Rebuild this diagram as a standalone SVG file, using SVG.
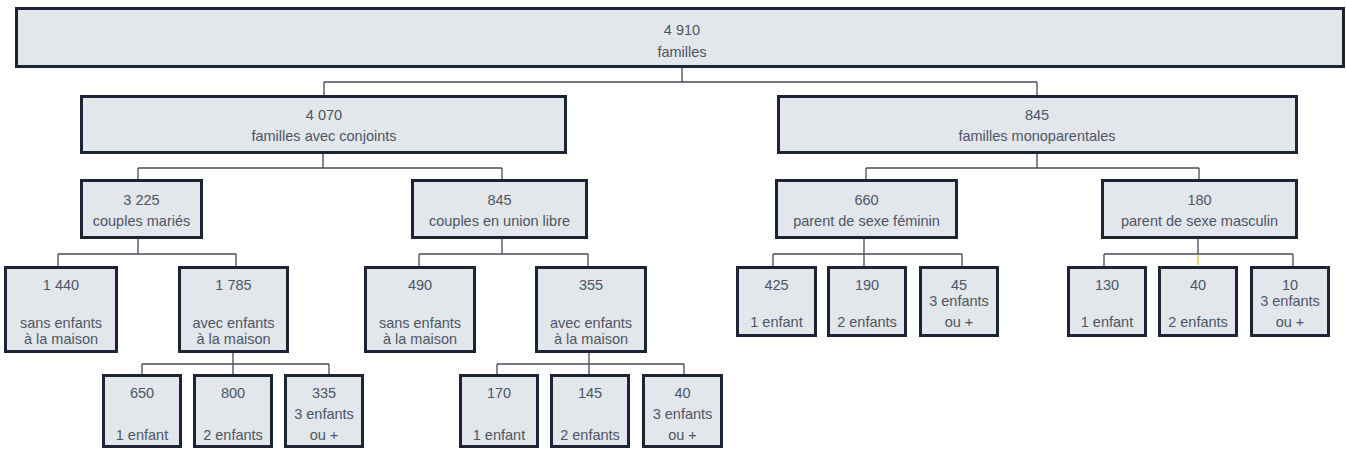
<svg xmlns="http://www.w3.org/2000/svg" width="1346" height="450" viewBox="0 0 1346 450">
<style>
.box{fill:#e3e6eb;stroke:#1d2535;stroke-width:3}
.inner{fill:none;stroke:#9ba2ad;stroke-width:1}
text{font-family:"Liberation Sans",Arial,sans-serif;font-size:14.5px;fill:#4d5666;text-anchor:middle}
.con{fill:none;stroke:#454c58;stroke-width:1.3}
.hl{fill:none;stroke:#d8d44c;stroke-width:1.6}
</style>
<rect width="1346" height="450" fill="#ffffff"/>
<g id="connectors">
<path class="con" d="M682,68V82M324,82H1037M324,82V95M1037,82V95"/>
<path class="con" d="M323,154V168M138,168H502M138,168V179M502,168V179"/>
<path class="con" d="M1037,154V168M866,168H1199M866,168V179M1199,168V179"/>
<path class="con" d="M138,239V254M58,254H236M58,254V266M236,254V266"/>
<path class="con" d="M502,239V254M419,254H588M419,254V266M588,254V266"/>
<path class="con" d="M233,353V364M142,364H329M142,364V374M233,364V374M329,364V374"/>
<path class="con" d="M589,353V364M497,364H684M497,364V374M589,364V374M684,364V374"/>
<path class="con" d="M864,239V254M773,254H962M773,254V266M864,254V266M962,254V266"/>
<path class="con" d="M1198,239V254M1104,254H1293M1104,254V266M1293,254V266"/>
<path class="hl" d="M1198,254.7V265"/>
</g>
<g id="n4910"><rect class="box" x="16.5" y="8.5" width="1327" height="58"/><text x="682" y="35">4 910</text><text x="682" y="57">familles</text></g>
<g id="n4070"><rect class="box" x="81.5" y="96.5" width="484" height="56"/><text x="324" y="120">4 070</text><text x="324" y="141">familles avec conjoints</text></g>
<g id="n845m"><rect class="box" x="778.5" y="96.5" width="518" height="56"/><text x="1037" y="120">845</text><text x="1037" y="141">familles monoparentales</text></g>
<g id="n3225"><rect class="box" x="81.5" y="180.5" width="120" height="57"/><text x="141.5" y="205">3 225</text><text x="141.5" y="226">couples mariés</text></g>
<g id="n845c"><rect class="box" x="412.5" y="180.5" width="174" height="57"/><text x="499.5" y="205">845</text><text x="499.5" y="226">couples en union libre</text></g>
<g id="n660"><rect class="box" x="776.5" y="180.5" width="180" height="57"/><text x="866.5" y="205">660</text><text x="866.5" y="226">parent de sexe féminin</text></g>
<g id="n180"><rect class="box" x="1102.5" y="180.5" width="194" height="57"/><text x="1199.5" y="205">180</text><text x="1199.5" y="226">parent de sexe masculin</text></g>
<g id="n1440"><rect class="box" x="5.5" y="267.5" width="111" height="84"/><text x="61" y="290">1 440</text><text x="61" y="328">sans enfants</text><text x="61" y="344">à la maison</text></g>
<g id="n1785"><rect class="box" x="179.5" y="267.5" width="108" height="84"/><text x="233.5" y="290">1 785</text><text x="233.5" y="328">avec enfants</text><text x="233.5" y="344">à la maison</text></g>
<g id="n490"><rect class="box" x="365.5" y="267.5" width="109" height="84"/><text x="420" y="290">490</text><text x="420" y="328">sans enfants</text><text x="420" y="344">à la maison</text></g>
<g id="n355"><rect class="box" x="536.5" y="267.5" width="109" height="84"/><text x="591" y="290">355</text><text x="591" y="328">avec enfants</text><text x="591" y="344">à la maison</text></g>
<g id="n425"><rect class="box" x="737.5" y="267.5" width="78" height="68"/><text x="776.5" y="290">425</text><text x="776.5" y="327">1 enfant</text></g>
<g id="n190"><rect class="box" x="828.5" y="267.5" width="77" height="68"/><text x="867" y="290">190</text><text x="867" y="327">2 enfants</text></g>
<g id="n45"><rect class="box" x="920.5" y="267.5" width="77" height="68"/><text x="959" y="290">45</text><text x="959" y="306">3 enfants</text><text x="959" y="327">ou +</text></g>
<g id="n130"><rect class="box" x="1068.5" y="267.5" width="77" height="68"/><text x="1107" y="290">130</text><text x="1107" y="327">1 enfant</text></g>
<g id="n40r"><rect class="box" x="1159.5" y="267.5" width="77" height="68"/><text x="1198" y="290">40</text><text x="1198" y="327">2 enfants</text></g>
<g id="n10"><rect class="box" x="1251.5" y="267.5" width="77" height="68"/><text x="1290" y="290">10</text><text x="1290" y="306">3 enfants</text><text x="1290" y="327">ou +</text></g>
<g id="n650"><rect class="box" x="103.5" y="375.5" width="77" height="71"/><text x="142" y="398">650</text><text x="142" y="440">1 enfant</text></g>
<g id="n800"><rect class="box" x="194.5" y="375.5" width="77" height="71"/><text x="233" y="398">800</text><text x="233" y="440">2 enfants</text></g>
<g id="n335"><rect class="box" x="285.5" y="375.5" width="77" height="71"/><text x="324" y="398">335</text><text x="324" y="419">3 enfants</text><text x="324" y="440">ou +</text></g>
<g id="n170"><rect class="box" x="460.5" y="375.5" width="77" height="71"/><text x="499" y="398">170</text><text x="499" y="440">1 enfant</text></g>
<g id="n145"><rect class="box" x="551.5" y="375.5" width="77" height="71"/><text x="590" y="398">145</text><text x="590" y="440">2 enfants</text></g>
<g id="n40l"><rect class="box" x="643.5" y="375.5" width="78" height="71"/><text x="682.5" y="398">40</text><text x="682.5" y="419">3 enfants</text><text x="682.5" y="440">ou +</text></g>
</svg>
